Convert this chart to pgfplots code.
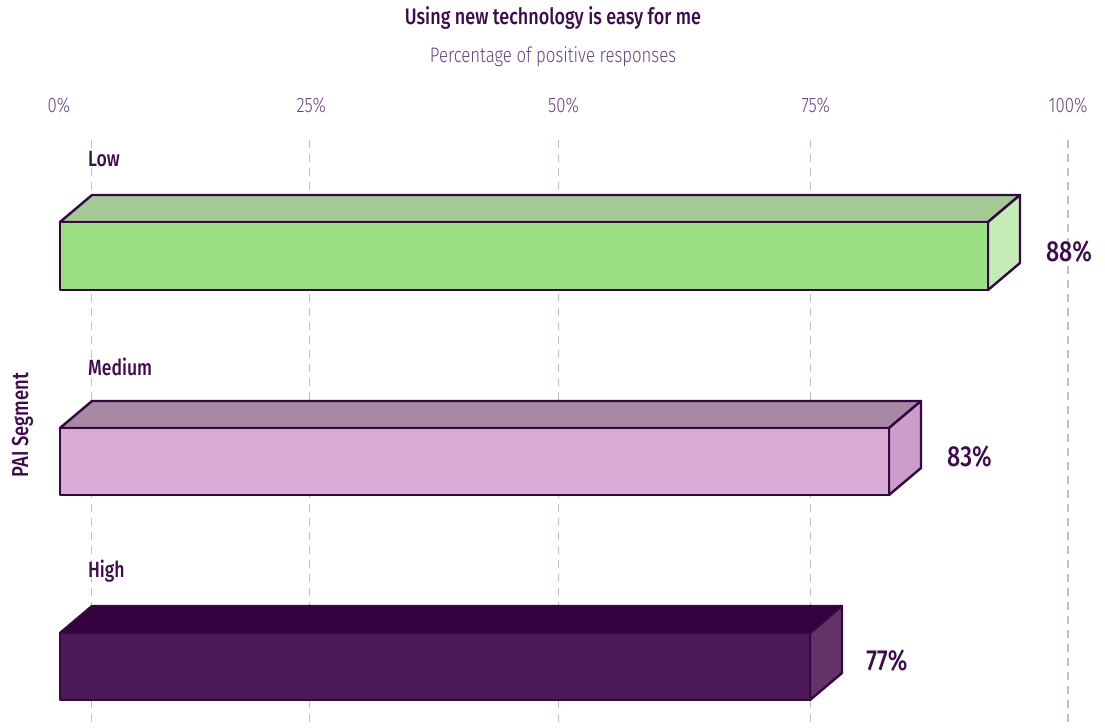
\documentclass[border=0pt]{standalone}
\usepackage{fontspec}
\setmainfont{Fira Sans}[FakeStretch=0.8]
\newfontfamily\medfont{Fira Sans Medium}[FakeStretch=0.8]
\newfontfamily\lightfont{Fira Sans Light}[FakeStretch=0.8]
\usepackage{pgfplots}
\pgfplotsset{compat=1.18}
\definecolor{outl}{HTML}{33093F}
\definecolor{titc}{HTML}{3D0C4A}
\definecolor{subc}{HTML}{68437A}
\definecolor{gridc}{HTML}{CDB6D6}
\definecolor{lowF}{HTML}{9BDF84}
\definecolor{lowT}{HTML}{A4C995}
\definecolor{lowS}{HTML}{C5EBB8}
\definecolor{medF}{HTML}{D8AAD4}
\definecolor{medT}{HTML}{A988A6}
\definecolor{medS}{HTML}{CC9CCC}
\definecolor{higF}{HTML}{4C1856}
\definecolor{higT}{HTML}{340040}
\definecolor{higS}{HTML}{633368}
\begin{document}
\begin{tikzpicture}[x=1bp,y=1bp]
\path[use as bounding box] (0,0) rectangle (1105,-728);
\coordinate (A) at (59,-140);
\node[text=titc, font=\medfont\fontsize{22.5bp}{26bp}\selectfont, anchor=base] at (553,-24.5) {Using new technology is easy for me};
\node[text=subc, font=\lightfont\fontsize{21bp}{25bp}\selectfont, anchor=base] at (553,-63) {Percentage of positive responses};
\node[text=titc, font=\medfont\fontsize{23bp}{27bp}\selectfont, rotate=90, anchor=base] at (28,-425) {PAI Segment};
\begin{axis}[at={(A)}, anchor=north west, scale only axis,
  width=1009bp, height=588bp,
  xmin=0, xmax=100, ymin=140, ymax=728, y dir=reverse,
  axis line style={draw=none}, ytick=\empty,
  xtick={0,25,50,75,100}, xticklabels={0\%,25\%,50\%,75\%,100\%},
  xticklabel pos=top, major tick length=0pt,
  xticklabel style={text=subc, font=\lightfont\fontsize{21bp}{24bp}\selectfont, anchor=base, yshift=28bp},
  extra x ticks={3.2,24.8,49.5,74.5,100}, extra x tick labels={},
  extra x tick style={grid=major, major grid style={draw=gridc, line width=1.2bp, dash pattern=on 8bp off 6bp}},
  clip=false]
% Low
\addplot[fill=lowT, draw=outl, line width=2.4bp, line join=round, mark=none] coordinates {(0.1,222) (3.27,195) (95.24,195) (92.07,222)} --cycle;
\addplot[fill=lowS, draw=outl, line width=2.4bp, line join=round, mark=none] coordinates {(92.07,222) (95.24,195) (95.24,263) (92.07,290)} --cycle;
\addplot[fill=lowF, draw=outl, line width=2.4bp, line join=round, mark=none] coordinates {(0.1,222) (92.07,222) (92.07,290) (0.1,290)} --cycle;
% Medium
\addplot[fill=medT, draw=outl, line width=2.4bp, line join=round, mark=none] coordinates {(0.1,428) (3.27,401) (85.43,401) (82.26,428)} --cycle;
\addplot[fill=medS, draw=outl, line width=2.4bp, line join=round, mark=none] coordinates {(82.26,428) (85.43,401) (85.43,468) (82.26,495)} --cycle;
\addplot[fill=medF, draw=outl, line width=2.4bp, line join=round, mark=none] coordinates {(0.1,428) (82.26,428) (82.26,495) (0.1,495)} --cycle;
% High
\addplot[fill=higT, draw=outl, line width=2.4bp, line join=round, mark=none] coordinates {(0.1,633) (3.27,606) (77.60,606) (74.43,633)} --cycle;
\addplot[fill=higS, draw=outl, line width=2.4bp, line join=round, mark=none] coordinates {(74.43,633) (77.60,606) (77.60,673) (74.43,700)} --cycle;
\addplot[fill=higF, draw=outl, line width=2.4bp, line join=round, mark=none] coordinates {(0.1,633) (74.43,633) (74.43,700) (0.1,700)} --cycle;
% category labels
\node[text=titc, font=\medfont\fontsize{22bp}{26bp}\selectfont, anchor=base west, inner sep=0pt] at (axis cs:2.87,166) {Low};
\node[text=titc, font=\medfont\fontsize{22bp}{26bp}\selectfont, anchor=base west, inner sep=0pt] at (axis cs:2.87,375) {Medium};
\node[text=titc, font=\medfont\fontsize{22bp}{26bp}\selectfont, anchor=base west, inner sep=0pt] at (axis cs:2.87,577) {High};
% value labels
\node[text=titc, font=\medfont\fontsize{29bp}{33bp}\selectfont, anchor=base west, inner sep=0pt] at (axis cs:97.8,261) {88\%};
\node[text=titc, font=\medfont\fontsize{29bp}{33bp}\selectfont, anchor=base west, inner sep=0pt] at (axis cs:88.0,466) {83\%};
\node[text=titc, font=\medfont\fontsize{29bp}{33bp}\selectfont, anchor=base west, inner sep=0pt] at (axis cs:80.0,670) {77\%};
\end{axis}
\end{tikzpicture}
\end{document}
